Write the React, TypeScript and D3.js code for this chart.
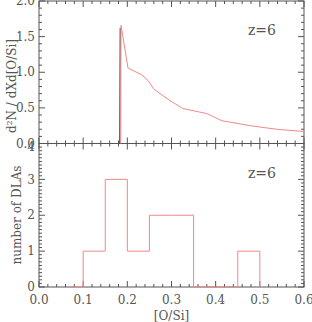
import React, { useRef, useEffect } from 'react';
import * as d3 from 'd3';

// top panel: distribution curve (red) and narrow reference line (dark)
const curveX = [0.185, 0.1857, 0.2015, 0.204, 0.2325, 0.2475, 0.251, 0.259, 0.274, 0.297, 0.326, 0.38, 0.414, 0.478, 0.538, 0.6];
const curveY = [0.0, 1.66, 1.06, 1.05, 0.965, 0.88, 0.85, 0.77, 0.7, 0.6, 0.49, 0.42, 0.32, 0.25, 0.2, 0.168];
const darkX = [0.1828, 0.1838];
const darkY = [0.0, 1.62];

// bottom panel: histogram of [O/Si]
const binEdges = [0.075, 0.1, 0.15, 0.2, 0.25, 0.3, 0.35, 0.4, 0.45, 0.5];
const binCounts = [0, 1, 3, 1, 2, 2, 0, 0, 1];

const xTicks = [0.0, 0.1, 0.2, 0.3, 0.4, 0.5, 0.6];
const topYTicks = [0.0, 0.5, 1.0, 1.5, 2.0];
const botYTicks = [0, 1, 2, 3, 4];

const RED = '#f28888';
const AXIS = '#555';
const FONT = "'DejaVu Serif', 'Liberation Serif', serif";

export default function App() {
  const ref = useRef<SVGSVGElement>(null);

  useEffect(() => {
    if (!ref.current) return;
    document.body.style.margin = '0';
    const svg = d3.select(ref.current);
    svg.selectAll('*').remove();

    const left = 39, right = 304;
    const topY0 = 1, mid = 143.5, botY1 = 287;

    const x = d3.scaleLinear().domain([0, 0.6]).range([left, right]);
    const yTop = d3.scaleLinear().domain([0, 2]).range([mid, topY0]);
    const yBot = d3.scaleLinear().domain([0, 4]).range([botY1, mid]);

    // IDL-style box with inward ticks on all four sides
    const drawFrame = (y: d3.ScaleLinear<number, number>, yMinor: number, perMajor: number, y0: number, y1: number) => {
      const g = svg.append('g').attr('stroke', AXIS).attr('stroke-width', 1).attr('fill', 'none');
      g.append('rect').attr('x', left).attr('y', y0).attr('width', right - left).attr('height', y1 - y0);
      d3.range(0, 0.6001, 0.02).forEach((v, i) => {
        const len = i % 5 === 0 ? 6 : 3;
        const px = x(v);
        g.append('line').attr('x1', px).attr('x2', px).attr('y1', y1).attr('y2', y1 - len);
        g.append('line').attr('x1', px).attr('x2', px).attr('y1', y0).attr('y2', y0 + len);
      });
      const [d0, d1] = y.domain();
      d3.range(d0, d1 + 1e-6, yMinor).forEach((v, i) => {
        const len = i % perMajor === 0 ? 6 : 3;
        const py = y(v);
        g.append('line').attr('x1', left).attr('x2', left + len).attr('y1', py).attr('y2', py);
        g.append('line').attr('x1', right).attr('x2', right - len).attr('y1', py).attr('y2', py);
      });
    };

    drawFrame(yTop, 0.1, 5, topY0, mid);
    drawFrame(yBot, 0.1, 10, mid, botY1);

    const text = svg.append('g').attr('font-family', FONT).attr('fill', AXIS).attr('font-size', 12);

    topYTicks.forEach(v => {
      text.append('text').attr('x', 35).attr('y', yTop(v)).attr('dy', '0.35em')
        .attr('text-anchor', 'end').text(v.toFixed(1));
    });
    botYTicks.forEach(v => {
      text.append('text').attr('x', 35).attr('y', yBot(v) + (v === 4 ? 3 : 0)).attr('dy', '0.35em')
        .attr('text-anchor', 'end').text(String(v));
    });
    xTicks.forEach(v => {
      text.append('text').attr('x', x(v)).attr('y', 300).attr('dy', '0.35em')
        .attr('text-anchor', 'middle').text(v.toFixed(1));
    });
    text.append('text').attr('x', (left + right) / 2).attr('y', 316).attr('dy', '0.35em')
      .attr('text-anchor', 'middle').text('[O/Si]');

    text.append('text').attr('transform', 'translate(12,86) rotate(-90)').attr('dy', '0.35em')
      .attr('text-anchor', 'middle').text('d²N / dXd[O/Si]');
    text.append('text').attr('transform', 'translate(17,215) rotate(-90)').attr('dy', '0.35em')
      .attr('text-anchor', 'middle').text('number of DLAs');

    text.append('text').attr('x', 262).attr('y', 30).attr('dy', '0.35em')
      .attr('text-anchor', 'middle').attr('font-size', 14).text('z=6');
    text.append('text').attr('x', 262).attr('y', 173).attr('dy', '0.35em')
      .attr('text-anchor', 'middle').attr('font-size', 14).text('z=6');

    // top curves
    const line = d3.line<[number, number]>().x(d => x(d[0])).y(d => yTop(d[1]));
    svg.append('path').attr('d', line(darkX.map((v, i) => [v, darkY[i]]) as [number, number][]))
      .attr('fill', 'none').attr('stroke', '#333').attr('stroke-width', 1);
    svg.append('path').attr('d', line(curveX.map((v, i) => [v, curveY[i]]) as [number, number][]))
      .attr('fill', 'none').attr('stroke', RED).attr('stroke-width', 1);

    // histogram step path
    const pts: [number, number][] = [];
    binCounts.forEach((c, i) => {
      pts.push([binEdges[i], c]);
      pts.push([binEdges[i + 1], c]);
    });
    pts.push([binEdges[binEdges.length - 1], 0]);
    const hline = d3.line<[number, number]>().x(d => x(d[0])).y(d => yBot(d[1]));
    svg.append('path').attr('d', hline(pts)).attr('fill', 'none').attr('stroke', RED).attr('stroke-width', 1);
  }, []);

  return <svg ref={ref} width={312} height={322} style={{ display: 'block' }} />;
}
